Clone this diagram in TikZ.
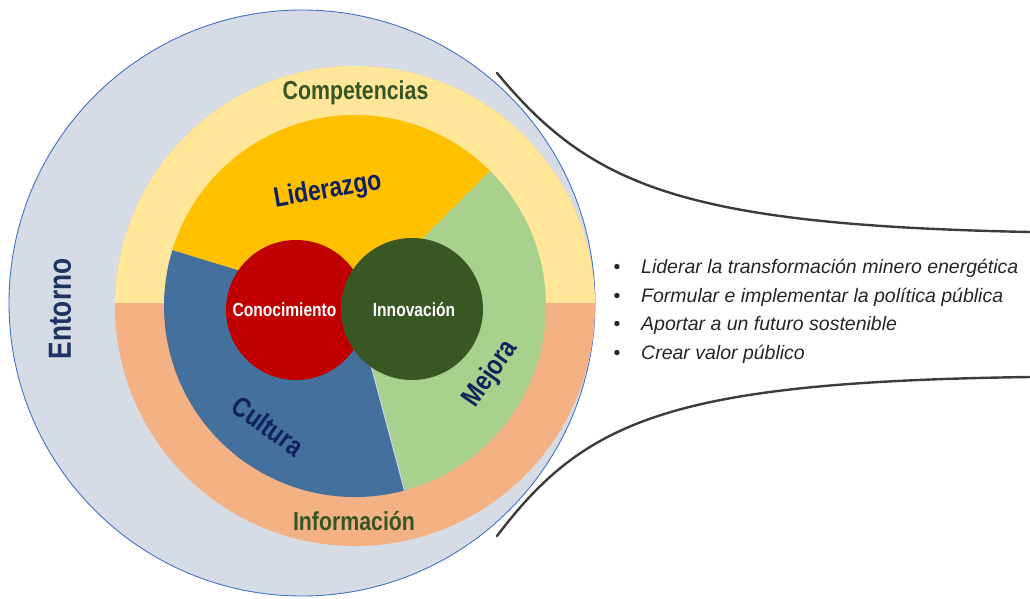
\documentclass[tikz,border=0pt]{standalone}
\usepackage{fontspec}
\setmainfont{Liberation Sans}
\newfontfamily\narrowsans[FakeStretch=0.82]{Liberation Sans}
\definecolor{entorno}{HTML}{D6DCE5}
\definecolor{entornoline}{HTML}{4472C4}
\definecolor{compband}{HTML}{FFE699}
\definecolor{infoband}{HTML}{F4B183}
\definecolor{lidcol}{HTML}{FFC000}
\definecolor{mejcol}{HTML}{A9D18E}
\definecolor{culcol}{HTML}{44709E}
\definecolor{concol}{HTML}{C00000}
\definecolor{innocol}{HTML}{385723}
\definecolor{bandtext}{HTML}{375623}
\definecolor{navytext}{HTML}{10215E}
\definecolor{entornotext}{HTML}{1F3262}
\definecolor{calloutcol}{HTML}{3C3C3C}
\definecolor{listtext}{HTML}{262626}
\begin{document}
\begin{tikzpicture}[x=1pt,y=-1pt,
  bandlabel/.style={font=\narrowsans\bfseries\fontsize{26}{30}\selectfont, text=bandtext, inner sep=0pt},
  sectorlabel/.style={font=\narrowsans\bfseries\fontsize{28}{32}\selectfont, text=navytext, inner sep=0pt},
  corelabel/.style={font=\narrowsans\bfseries\fontsize{19}{22}\selectfont, text=white, inner sep=0pt},
  core/.style={circle, minimum size=#1, inner sep=0pt, draw=none},
  callout/.style={draw=calloutcol, line width=2.4pt, line cap=round},
  bulletmark/.style={font=\fontsize{19.5}{23}\selectfont, text=listtext, inner sep=0pt, anchor=base},
  listitem/.style={font=\itshape\fontsize{19.5}{23}\selectfont, text=listtext, inner sep=0pt, anchor=base west}]

\useasboundingbox (0,0) rectangle (1030,599);
\fill[white] (0,0) rectangle (1030,599);

% outer environment disc
\coordinate (env) at (302,303);
\fill[entorno] (env) circle[radius=293];
\draw[entornoline, line width=0.9pt] (env) circle[radius=293];

% competencies / information ring
\coordinate (hub) at (355,306);
\fill[infoband] (hub) circle[radius=240];
\begin{scope}
  \clip (0,0) rectangle (1030,302);
  \fill[compband] (hub) circle[radius=240];
\end{scope}

% three sectors
\fill[lidcol] (hub) -- ++(-163:191) arc[start angle=-163, end angle=-45, radius=191] -- cycle;
\fill[mejcol] (hub) -- ++(-45:191) arc[start angle=-45, end angle=75, radius=191] -- cycle;
\fill[culcol] (hub) -- ++(75:191) arc[start angle=75, end angle=197, radius=191] -- cycle;
\draw[white!85!blue, line width=0.8pt] (hub) -- ++(75:191);

% core circles
\node[core=140, fill=concol] (con) at (296,310) {};
\node[core=142, fill=innocol] (inno) at (412,309) {};

% labels
\node[corelabel, anchor=base] (conlbl) at (284.5,316) {Conocimiento};
\node[corelabel, anchor=base] (innolbl) at (414,316) {Innovación};
\node[bandlabel, anchor=base] (comp) at (355.5,100) {Competencias};
\node[bandlabel, anchor=base] (info) at (354,530) {Información};
\node[sectorlabel, anchor=base, rotate=10] (lid) at (329,198) {Liderazgo};
\node[sectorlabel, rotate=-36] (cul) at (268,426) {Cultura};
\node[sectorlabel, rotate=55] (mej) at (491,374) {Mejora};
\node[font=\narrowsans\bfseries\fontsize{32}{36}\selectfont, text=entornotext, inner sep=0pt, rotate=90] (ent) at (60,309) {Entorno};

% callout curves
\coordinate (topstart) at (497,73);
\coordinate (topend) at (1030,232);
\coordinate (botstart) at (497,536);
\coordinate (botend) at (1030,377);
\draw[callout] (topstart) .. controls (590,185) and (680,225) .. (topend);
\draw[callout] (botstart) .. controls (585,420) and (670,382) .. (botend);

% bullet list
\node[bulletmark] (b1) at (617,273) {•};
\node[bulletmark] (b2) at (617,302) {•};
\node[bulletmark] (b3) at (617,330.5) {•};
\node[bulletmark] (b4) at (617,359) {•};
\node[listitem] (i1) at (641,273) {Liderar la transformación minero energética};
\node[listitem] (i2) at (641,302) {Formular e implementar la política pública};
\node[listitem] (i3) at (641,330.5) {Aportar a un futuro sostenible};
\node[listitem] (i4) at (641,359) {Crear valor público};
\end{tikzpicture}
\end{document}
